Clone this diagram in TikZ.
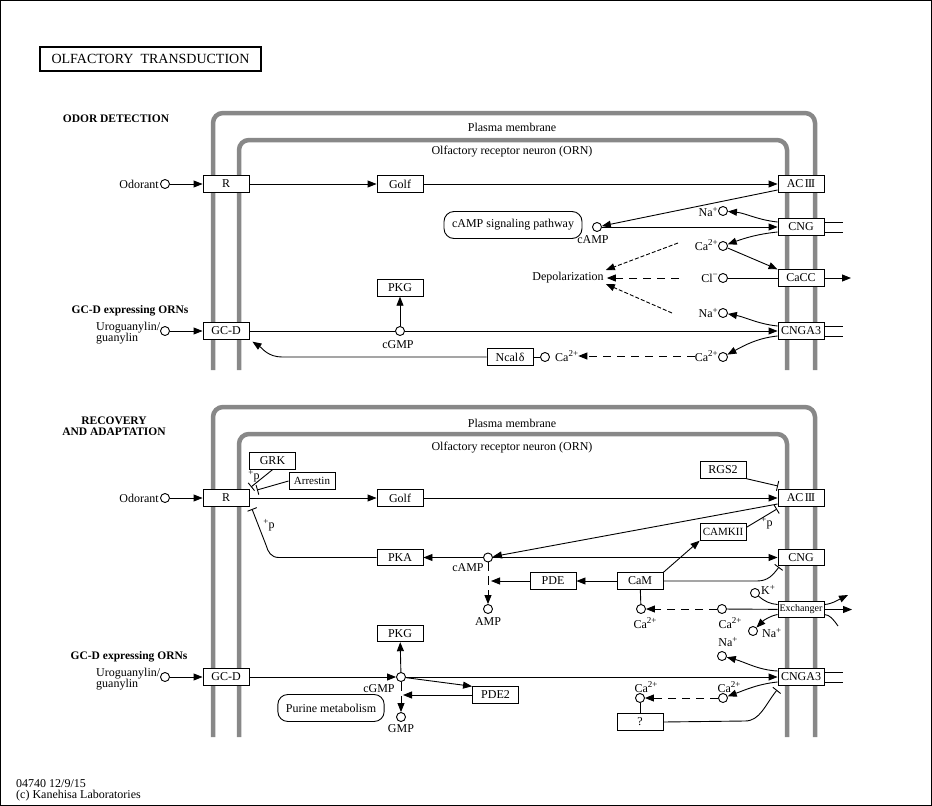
\documentclass[tikz,border=0pt]{standalone}
\usepackage{fontspec}
\setmainfont{Liberation Serif}
\usetikzlibrary{arrows.meta,calc}
\definecolor{memgray}{RGB}{136,136,136}
\newcommand\fsz[1]{\fontsize{#1}{#1}\selectfont}
\newcommand\up[1]{\raisebox{4.5pt}{\fontsize{9}{9}\selectfont #1}}
\newcommand\acthree{AC\kern1.5pt I\kern-0.9pt I\kern-0.9pt I}
\begin{document}
\begin{tikzpicture}[x=1pt,y=-1pt,
  every node/.style={inner sep=0pt, font=\fsz{12}},
  gene/.style={draw, fill=white, minimum width=46pt, minimum height=16.5pt, line width=0.9pt},
  cpd/.style={draw, circle, fill=white, minimum size=9pt, line width=0.9pt},
  mem/.style={line width=4.5pt, draw=memgray, rounded corners=10pt},
  ln/.style={line width=0.9pt},
  arr/.style={ln, -{Triangle[length=9pt,width=7pt]}},
  inh/.style={ln, -{Bar[width=10pt,line width=0.9pt]}},
  dsh/.style={arr, dash pattern=on 8pt off 6pt},
  fdsh/.style={arr, dash pattern=on 4pt off 2pt},
  vdsh/.style={arr, dash pattern=on 9pt off 5pt},
  mapbox/.style={draw, rounded corners=10pt, minimum height=27pt, inner xsep=8pt, line width=0.9pt},
  hd/.style={font=\fsz{11.5}\bfseries, align=center},
  two/.style={align=left, font=\fontsize{12}{10}\selectfont}
]
\useasboundingbox (0,0) rectangle (932,806);
\draw[line width=1pt] (0.5,0.5) rectangle (931.5,805.5);

% title
\node[draw, line width=2pt, minimum width=221pt, minimum height=24pt, font=\fsz{14}] (title) at (150.5,59) {OLFACTORY\ \ TRANSDUCTION};

% ================= TOP PANEL =================
\draw[mem] (213,370) -- (213,113) -- (815,113) -- (815,370);
\draw[mem] (239,370) -- (239,140) -- (787,140) -- (787,370);
\node (pm1) at (512,127) {Plasma membrane};
\node (orn1) at (512,152) {Olfactory receptor neuron (ORN)};
\node[hd] (hdA) at (116,119) {ODOR DETECTION};
\node[hd] (hdB) at (130,311) {GC-D expressing ORNs};

\node[gene] (R1) at (226,184) {R};
\node[gene] (golf1) at (400,184) {Golf};
\node[gene] (ac1) at (801,184) {\acthree};
\node[gene] (cng1) at (801,227) {CNG};
\node[gene] (cacc1) at (801,278) {CaCC};
\node[gene] (cnga1) at (801,331) {CNGA3};
\node[gene] (pkg1) at (400,288) {PKG};
\node[gene] (gcd1) at (226,331) {GC-D};
\node[gene] (ncal) at (510,357) {Ncal\kern0.5pt δ};

\node[cpd] (odor1) at (165,184) {};
\node[anchor=east] (odor1l) at (159,184) {Odorant};
\node[cpd] (uro1) at (165,331) {};
\node[two, anchor=north west] (uro1l) at (96,321.5) {Uroguanylin/\\guanylin};
\node[cpd] (camp1) at (597,227) {};
\node (camp1l) at (593,240) {cAMP};
\node[mapbox] (campmap) at (513,225) {cAMP signaling pathway};
\node[cpd] (naA) at (723,211) {};
\node[anchor=east] (naAl) at (718,212) {Na\up{+}};
\node[cpd] (caA) at (723,246) {};
\node[anchor=east] (caAl) at (718,245) {Ca\up{2+}};
\node[cpd] (clA) at (723,278) {};
\node[anchor=east] (clAl) at (718,278) {Cl\up{−}};
\node[cpd] (naB) at (723,313) {};
\node[anchor=east] (naBl) at (718,313) {Na\up{+}};
\node[cpd] (caB) at (723,357) {};
\node[anchor=east] (caBl) at (718,356) {Ca\up{2+}};
\node[cpd] (caC) at (545,357) {};
\node[anchor=west] (caCl) at (555,356) {Ca\up{2+}};
\node[cpd] (cgmp1) at (400,331) {};
\node (cgmp1l) at (398,345) {cGMP};
\node (depol) at (568,278) {Depolarization};

\coordinate (d1s) at (678,243);
\coordinate (d2s) at (679,278);
\coordinate (d3s) at (672,313);
\coordinate (caccout) at (851,278);

\draw[arr] (odor1) -- (R1);
\draw[arr] (uro1) -- (gcd1);
\draw[arr] (R1) -- (golf1);
\draw[arr] (golf1) -- (ac1);
\draw[arr] ($(ac1.west)+(0,6)$) -- (camp1);
\draw[arr] (camp1) -- (cng1);
\draw[arr] ($(cng1.west)+(0,-5)$) .. controls (758,220) and (745,213) .. (naA);
\draw[arr] ($(cng1.west)+(0,5)$) .. controls (758,234) and (745,238) .. (caA);
\draw[arr] (caA) -- (cacc1.north west);
\draw[ln] (clA) -- (cacc1);
\draw[arr] (cacc1) -- (caccout);
\draw[ln] ($(cng1.east)+(0,-5)$) -- +(19,0);
\draw[ln] ($(cng1.east)+(0,5)$) -- +(19,0);
\draw[ln] ($(cnga1.east)+(0,-5)$) -- +(19,0);
\draw[ln] ($(cnga1.east)+(0,5)$) -- +(19,0);
\draw[fdsh] (d1s) -- ($(depol.east)+(2,-8)$);
\draw[dsh] (d2s) -- ($(depol.east)+(3,0)$);
\draw[fdsh] (d3s) -- ($(depol.east)+(2,6)$);
\draw[ln] (gcd1) -- (cgmp1);
\draw[arr] (cgmp1) -- (cnga1);
\draw[arr] (cgmp1) -- (pkg1);
\draw[arr] ($(cnga1.west)+(0,-5)$) .. controls (758,324) and (745,317) .. (naB);
\draw[arr] ($(cnga1.west)+(0,5)$) .. controls (758,338) and (745,345) .. (caB);
\draw[dsh] (caBl.west) -- (caCl.east);
\draw[ln] (caC) -- (ncal);
\draw[arr] (ncal.west) -- (282,357) .. controls (268,357) and (262,348) .. ($(gcd1.south east)+(3,2)$);

% ================= BOTTOM PANEL =================
\draw[mem] (213,737) -- (213,407) -- (815,407) -- (815,737);
\draw[mem] (239,737) -- (239,434) -- (787,434) -- (787,737);
\node (pm2) at (512,423) {Plasma membrane};
\node (orn2) at (512,448) {Olfactory receptor neuron (ORN)};
\node[hd, font=\fontsize{11.5}{11}\selectfont\bfseries] (hdC) at (114,426.5) {RECOVERY\\AND ADAPTATION};
\node[hd] (hdD) at (129,657) {GC-D expressing ORNs};

\node[gene] (R2) at (226,498) {R};
\node[gene] (golf2) at (400,498) {Golf};
\node[gene] (ac2) at (801,498) {\acthree};
\node[gene] (grk) at (272.5,461) {GRK};
\node[gene, font=\fsz{11}] (arrest) at (312,481) {Arrestin};
\node[gene] (rgs) at (723,470) {RGS2};
\node[gene, font=\fsz{11}] (camk) at (723,532) {CAMKII};
\node[gene] (pka) at (400,557.5) {PKA};
\node[gene] (cng2) at (801,557.5) {CNG};
\node[gene] (pde) at (553,581) {PDE};
\node[gene] (cam) at (640,581) {CaM};
\node[gene, font=\fsz{10}] (exch) at (801,609.5) {Exchanger};
\node[gene] (pkg2) at (400,633.5) {PKG};
\node[gene] (gcd2) at (226,677) {GC-D};
\node[gene] (cnga2) at (801,677) {CNGA3};
\node[gene] (pde2) at (495.5,695) {PDE2};
\node[gene] (qbox) at (640,722) {?};
\node[mapbox] (purine) at (331,708) {Purine metabolism};

\node[cpd] (odor2) at (165,498) {};
\node[anchor=east] (odor2l) at (159,498) {Odorant};
\node[cpd] (uro2) at (165,677) {};
\node[two, anchor=north west] (uro2l) at (96,667.5) {Uroguanylin/\\guanylin};
\node[cpd] (camp2) at (488,557.5) {};
\node (camp2l) at (468,568) {cAMP};
\node[cpd] (amp) at (488,609) {};
\node (ampl) at (488,622) {AMP};
\node[cpd] (caD) at (641,609) {};
\node (caDl) at (645,623) {Ca\up{2+}};
\node[cpd] (caE) at (722,609) {};
\node (caEl) at (730,623) {Ca\up{2+}};
\node[cpd] (kA) at (755,593) {};
\node[anchor=west] (kAl) at (761,590) {K\up{+}};
\node[cpd] (naE) at (753,631) {};
\node[anchor=west] (naEl) at (762,633) {Na\up{+}};
\node[cpd] (naF) at (722,656) {};
\node (naFl) at (728,642) {Na\up{+}};
\node[cpd] (caF) at (723,698) {};
\node (caFl) at (729,687) {Ca\up{2+}};
\node[cpd] (caG) at (640,698) {};
\node (caGl) at (646,687) {Ca\up{2+}};
\node[cpd] (cgmp2) at (401,677) {};
\node (cgmp2l) at (379,689) {cGMP};
\node[cpd] (gmp) at (401,717) {};
\node (gmpl) at (401,729) {GMP};

\node (p1) at (254,476) {\up{+}p};
\node (p2) at (269,525) {\up{+}p};
\node (p3) at (767,523) {\up{+}p};

\coordinate (exout) at (852,609.5);
\coordinate (kout) at (848,595);
\coordinate (nain) at (838,626);
\coordinate (pdeT) at (491,581);
\coordinate (pde2T) at (403,695);

\draw[arr] (odor2) -- (R2);
\draw[arr] (R2) -- (golf2);
\draw[arr] (golf2) -- (ac2);
\draw[inh] (grk.south) -- (251,487);
\draw[inh] (arrest.west) -- (257,490);
\draw[inh] (pka.west) -- (279,557.5) .. controls (271,557.5) and (268,552) .. (266,545) -- (252,509);
\draw[inh] (rgs.south east) -- (778,486);
\draw[inh] ($(camk.north east)+(0,4)$) -- (777,509);
\draw[arr] ($(ac2.west)+(0,6)$) -- (camp2);
\draw[arr] (camp2) -- (pka);
\draw[arr] (camp2) -- (cng2);
\draw[arr] (cam) -- (pde);
\draw[arr] (pde) -- (pdeT);
\draw[vdsh] (camp2) -- (amp);
\draw[arr] (cam.north east) -- (camk.south west);
\draw[inh] (cam.east) -- (757,581) .. controls (768,581) and (773,575) .. (779,567);
\draw[ln] (caD) -- (cam);
\draw[dsh] (caE) -- (caD);
\draw[ln] (caE) -- (exch);
\draw[arr] (exch) -- (exout);
\draw[ln] (kA) .. controls (764,601) and (770,604) .. ($(exch.west)+(0,-5)$);
\draw[arr] ($(exch.east)+(0,-5)$) .. controls (832,604) and (838,600) .. (kout);
\draw[ln] (nain) .. controls (833,619) and (830,615) .. ($(exch.east)+(0,5)$);
\draw[arr] ($(exch.west)+(0,5)$) .. controls (770,616) and (764,620) .. (naE);

\draw[arr] (uro2) -- (gcd2);
\draw[arr] (gcd2) -- (cgmp2);
\draw[arr] (cgmp2) -- (cnga2);
\draw[arr] (cgmp2) -- (pkg2);
\draw[arr] (cgmp2) -- (pde2.north west);
\draw[arr] (pde2) -- (pde2T);
\draw[vdsh] (cgmp2) -- (gmp);
\draw[ln] ($(cnga2.east)+(0,-5)$) -- +(19,0);
\draw[ln] ($(cnga2.east)+(0,5)$) -- +(19,0);
\draw[arr] ($(cnga2.west)+(0,-6)$) .. controls (758,670) and (745,662) .. (naF);
\draw[arr] ($(cnga2.west)+(0,5)$) .. controls (758,684) and (745,690) .. (caF);
\draw[dsh] (caF) -- (caG);
\draw[ln] (caG) -- (qbox);
\draw[inh] (qbox.east) -- (745,721) .. controls (760,721) and (765,705) .. (777,690);

% footer
\node[anchor=west] (ft1) at (16,784) {04740 12/9/15};
\node[anchor=west] (ft2) at (16,795.5) {(c) Kanehisa Laboratories};
\end{tikzpicture}
\end{document}
